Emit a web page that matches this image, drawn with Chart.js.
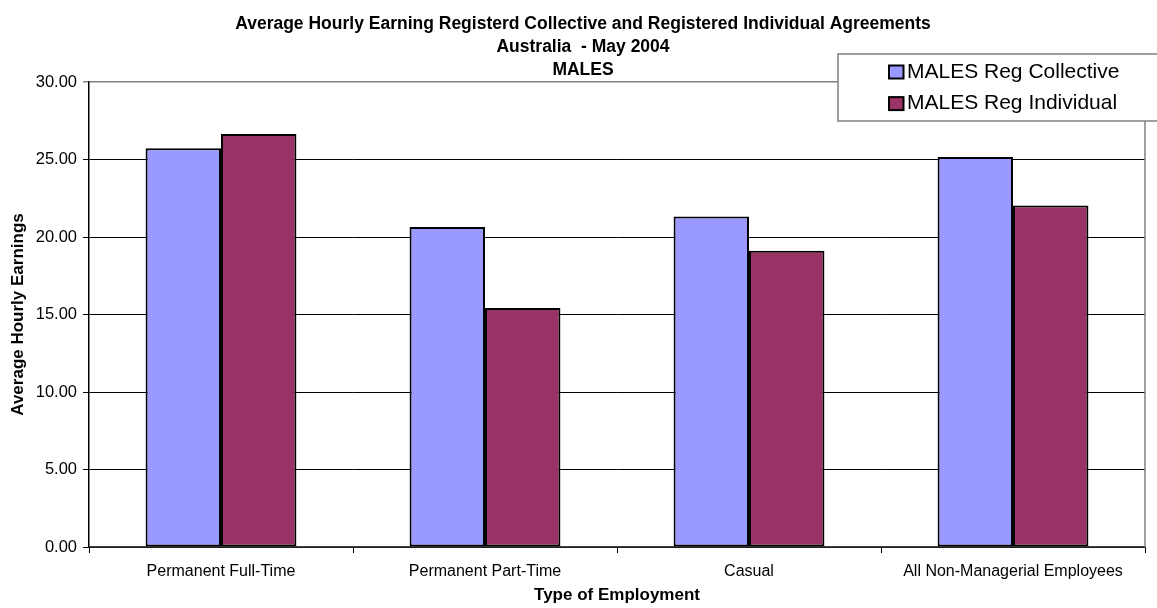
<!DOCTYPE html>
<html>
<head>
<meta charset="utf-8">
<title>Average Hourly Earnings - Males</title>
<script src="https://cdn.jsdelivr.net/npm/chart.js@4/dist/chart.umd.min.js"></script>
<style>
  html, body { margin: 0; padding: 0; background: #fff; }
  #wrap { width: 1157px; height: 608px; }
</style>
</head>
<body>
<div id="wrap"><canvas id="chart" width="1157" height="608"></canvas></div>
<script>
// Data
const categories = ['Permanent Full-Time', 'Permanent Part-Time', 'Casual', 'All Non-Managerial Employees'];
const regCollective = [25.72, 20.65, 21.33, 25.16];
const regIndividual = [26.65, 15.42, 19.12, 22.04];
const seriesNames = ['MALES Reg Collective', 'MALES Reg Individual'];
const yTicks = [0, 5, 10, 15, 20, 25, 30];
const titleLines = [
  'Average Hourly Earning Registerd Collective and Registered Individual Agreements',
  'Australia  - May 2004',
  'MALES'
];

const FONT = "'Liberation Sans', Arial, sans-serif";

// Title, legend box and plot border drawn on top of the chart
const decorations = {
  id: 'decorations',
  afterDraw(chart) {
    const ctx = chart.ctx;
    const area = chart.chartArea;
    ctx.save();

    // right edge of plot area
    ctx.strokeStyle = '#808080';
    ctx.lineWidth = 1.5;
    ctx.beginPath();
    ctx.moveTo(area.right, area.top);
    ctx.lineTo(area.right, area.bottom);
    ctx.stroke();

    // titles
    ctx.fillStyle = '#000';
    ctx.font = 'bold 17.5px ' + FONT;
    ctx.textAlign = 'center';
    ctx.textBaseline = 'middle';
    titleLines.forEach((line, i) => {
      ctx.fillText(line, 583, 24 + i * 23.3);
    });

    // legend
    ctx.fillStyle = '#fff';
    ctx.fillRect(838, 54, 330, 67);
    ctx.strokeStyle = '#808080';
    ctx.lineWidth = 1.5;
    ctx.strokeRect(838, 54, 330, 67);

    ctx.font = '21px ' + FONT;
    ctx.textAlign = 'left';
    chart.data.datasets.forEach((ds, i) => {
      const y = 72 + i * 31.6;
      ctx.fillStyle = ds.backgroundColor;
      ctx.fillRect(889, y - 6.5, 14.5, 13);
      ctx.strokeStyle = '#000';
      ctx.lineWidth = 2;
      ctx.strokeRect(889, y - 6.5, 14.5, 13);
      ctx.fillStyle = '#000';
      ctx.fillText(ds.label, 907, y);
    });

    ctx.restore();
  }
};

const ctx = document.getElementById('chart').getContext('2d');
const chart = new Chart(ctx, {
  type: 'bar',
  data: {
    labels: categories,
    datasets: [
      {
        label: seriesNames[0],
        data: regCollective,
        backgroundColor: '#9999FF',
        borderColor: '#000',
        borderWidth: 2,
        borderSkipped: false
      },
      {
        label: seriesNames[1],
        data: regIndividual,
        backgroundColor: '#993366',
        borderColor: '#000',
        borderWidth: 2,
        borderSkipped: false
      }
    ]
  },
  options: {
    responsive: false,
    animation: false,
    layout: {
      padding: { top: 82, right: 12, left: 0, bottom: 0 }
    },
    datasets: {
      bar: {
        barPercentage: 1,
        categoryPercentage: 2 / 3.5
      }
    },
    scales: {
      x: {
        offset: true,
        afterFit: s => { s.height = 61; },
        grid: {
          offset: true,
          drawOnChartArea: false,
          drawTicks: true,
          tickLength: 6,
          color: '#000'
        },
        border: { color: '#404040', width: 1.5 },
        ticks: {
          color: '#000',
          font: { family: FONT, size: 16 },
          padding: 9,
          maxRotation: 0,
          autoSkip: false
        },
        title: {
          display: true,
          text: 'Type of Employment',
          color: '#000',
          font: { family: FONT, size: 17, weight: 'bold' },
          padding: { top: 0, bottom: 2 }
        }
      },
      y: {
        min: 0,
        max: 30,
        afterFit: s => { s.width = 89; },
        afterBuildTicks: s => { s.ticks = yTicks.map(v => ({ value: v })); },
        grid: {
          color: c => (c.tick && c.tick.value === 30 ? '#808080' : '#000'),
          lineWidth: c => (c.tick && c.tick.value === 30 ? 1.5 : 1),
          tickLength: 6,
          drawTicks: true
        },
        border: { color: '#000', width: 1.5 },
        ticks: {
          color: '#000',
          font: { family: FONT, size: 16.5 },
          padding: 6,
          callback: v => Number(v).toFixed(2)
        },
        title: {
          display: true,
          text: 'Average Hourly Earnings',
          color: '#000',
          font: { family: FONT, size: 17, weight: 'bold' },
          padding: { top: 8, bottom: 0 }
        }
      }
    },
    plugins: {
      legend: { display: false },
      title: { display: false },
      tooltip: { enabled: false }
    }
  },
  plugins: [decorations]
});
</script>
</body>
</html>
